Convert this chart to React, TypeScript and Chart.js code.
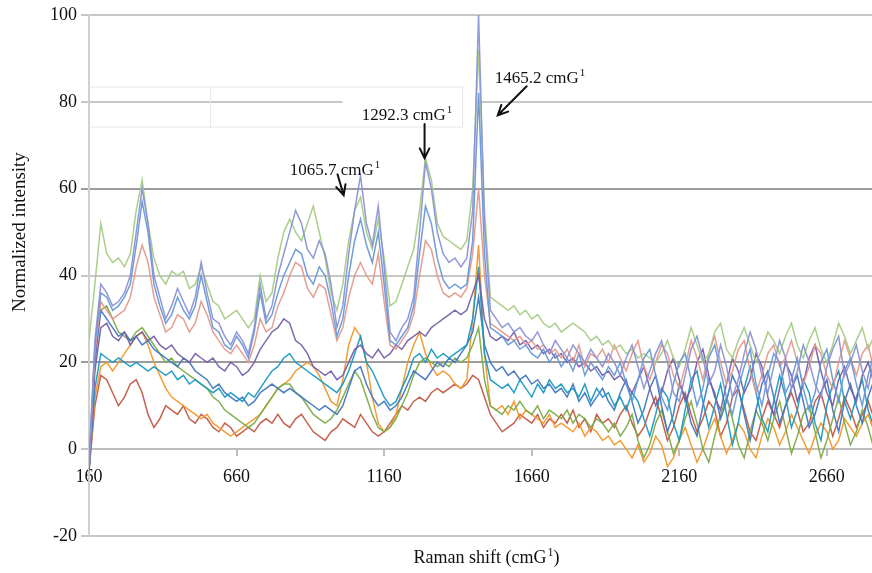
import React, { useEffect, useRef } from 'react';
import { Chart, registerables } from 'chart.js';

Chart.register(...registerables);

// Raman shift sampling: START + STEP * i  (cm^-1)
const X_START = 160;
const X_STEP = 20;
const X_MIN = 160;
const X_MAX = 2813;
const X_TICKS = [160, 660, 1160, 1660, 2160, 2660];
const Y_MIN = -20;
const Y_MAX = 100;
const Y_STEP = 20;

const lavender = [
  -3, 25, 38, 36, 33, 34, 36, 40, 50, 60,
  52, 40, 35, 30, 33, 37, 34, 31, 35, 43,
  36, 30, 29, 26, 24, 27, 25, 22, 28, 38,
  30, 33, 40, 45, 50, 55, 52, 46, 44, 48,
  45, 38, 28, 33, 45, 55, 63, 52, 47, 56,
  42, 27, 25, 28, 30, 35, 50, 66, 60, 50,
  45, 43, 44, 42, 44, 55, 100, 52, 32, 30,
  28, 29, 27, 28, 26, 25, 27, 24, 22, 25,
  23, 21, 24, 22, 20, 23, 21, 19, 22, 20,
  17, 21, 24, 19, 14, 18, 22, 25, 20, 13,
  11, 17, 23, 26, 21, 15, 18, 24, 19, 12,
  16, 22, 27, 23, 17, 13, 19, 25, 21, 14,
  18, 24, 20, 15, 12, 19, 23, 26, 17, 20,
  24, 18, 14, 21, 19,
];

const lightBlue = [
  -4, 24, 36, 35, 32, 33, 35, 38, 47, 57,
  50, 38, 33, 29, 31, 35, 32, 30, 33, 40,
  34, 28, 27, 24, 23, 26, 24, 21, 27, 36,
  29, 31, 36, 40, 43, 46, 45, 40, 38, 42,
  40, 34, 26, 30, 40, 48, 53, 47, 43, 50,
  38, 25, 24, 26, 28, 33, 45, 56, 52, 44,
  39, 37, 38, 37, 38, 48, 82, 45, 28, 27,
  26, 24, 25, 23, 24, 22, 21, 23, 20, 22,
  19, 21, 18, 22, 17, 20, 18, 16, 19, 17,
  20, 15, 11, 16, 21, 23, 17, 12, 9, 15,
  20, 22, 16, 10, 14, 21, 24, 18, 12, 8,
  14, 19, 23, 15, 10, 17, 22, 20, 13, 16,
  21, 14, 9, 13, 20, 23, 16, 11, 18, 21,
  15, 10, 17, 22, 16,
];

const salmon = [
  -4, 22, 34, 32, 30, 31, 32, 35, 42, 47,
  43, 35, 31, 27, 28, 31, 30, 27, 29, 34,
  31, 27, 25, 23, 22, 24, 22, 20, 24, 30,
  27, 28, 33, 36, 40, 43, 42, 37, 35, 38,
  37, 31, 25, 28, 35, 40, 43, 40, 38, 45,
  34, 24, 23, 25, 27, 31, 40, 48, 46, 40,
  36, 35, 36, 35, 37, 45, 60, 40, 29, 28,
  27, 26, 25, 26, 24, 25, 23, 24, 22, 23,
  21, 23, 20, 24, 19, 22, 21, 23, 20, 24,
  21, 18, 22, 25, 19, 16, 20, 24, 22, 17,
  14, 19, 25, 21, 16, 22, 26, 20, 15, 18,
  23, 25, 18, 13, 17, 22, 24, 19, 21, 25,
  20, 15, 19, 24, 22, 17, 14, 20, 25, 21,
  17, 22, 24, 18, 21,
];

const lightGreen = [
  25, 38, 52, 45, 43, 44, 42, 45, 55, 62,
  52, 44, 40, 38, 41, 40, 41, 37, 38, 42,
  38, 34, 33, 30, 31, 32, 30, 28, 30, 40,
  34, 36, 44, 50, 53, 50, 48, 52, 56, 50,
  44, 36, 32, 38, 48, 55, 58, 50, 46, 53,
  44, 33, 34, 38, 42, 46, 55, 67, 62, 52,
  49, 48, 47, 46, 48, 60, 92, 55, 35, 34,
  33, 32, 33, 31, 32, 30, 31, 29, 28, 29,
  27, 28, 29, 28, 27, 25, 26, 24, 25, 23,
  24, 22, 23, 21, 22, 21, 20, 22, 25, 21,
  19, 23, 28, 24, 20, 22, 27, 29, 23, 21,
  25, 28, 24, 20, 23, 27, 25, 22, 26, 29,
  24, 21, 25, 28, 23, 20, 24, 29, 26, 22,
  25, 28, 23, 26, 24,
];

const purple = [
  -5, 18, 28, 29, 26, 25, 27, 24, 26, 27,
  25, 26, 24, 23, 24, 22, 21, 20, 22, 21,
  20, 21, 19, 18, 20, 19, 17, 18, 20, 23,
  25, 27, 28, 30, 29, 25, 24, 22, 19, 18,
  17, 18, 16, 17, 20, 23, 24, 22, 21, 23,
  21, 22, 24, 23, 25, 26, 27, 26, 28, 29,
  30, 31, 32, 31, 32, 36, 40, 30, 26, 25,
  26, 25, 27, 24, 25, 23, 24, 22, 23, 21,
  22, 20, 21, 19, 20, 18, 19, 17, 18, 16,
  17, 15, 13, 16, 19, 14, 10, 13, 18, 21,
  16, 11, 14, 20, 23, 17, 12, 9, 15, 21,
  18, 13, 16, 22, 19, 12, 8, 14, 20, 17,
  11, 15, 21, 24, 18, 13, 10, 16, 19, 14,
  11, 17, 20, 15, 13,
];

const teal = [
  -5, 14, 22, 21, 20, 21, 20, 19, 20, 19,
  18, 19, 18, 17, 18, 16, 17, 15, 16, 15,
  14, 13, 14, 12, 13, 12, 11, 13, 12, 14,
  16, 18, 19, 21, 22, 20, 19, 18, 17, 16,
  15, 14, 13, 15, 18, 22, 26, 20, 18, 15,
  12, 10, 11, 14, 17, 21, 22, 20, 23, 21,
  22, 21, 22, 23, 24, 30, 42, 22, 16, 15,
  14, 15, 13, 16, 14, 12, 15, 13, 16, 14,
  15, 13, 14, 12, 15, 11, 14, 12, 13, 10,
  12, 9, 13, 11, 7, 3, 8, 14, 12, 6,
  2, 9, 16, 18, 11, 5, 10, 15, 8, 1,
  6, 14, 19, 13, 7, 4, 11, 17, 12, 5,
  9, 16, 13, 6, 2, 10, 15, 18, 11, 7,
  12, 16, 9, 5, 10,
];

const blue = [
  -5, 20, 32, 30, 28, 26, 27, 25, 26, 24,
  25, 23, 22, 21, 20, 19, 21, 20, 18, 17,
  16, 14, 15, 13, 12, 11, 12, 10, 11, 13,
  14, 15, 14, 13, 14, 13, 12, 11, 10, 9,
  10, 9, 8, 10, 14, 18, 19, 15, 12, 10,
  11, 9, 10, 12, 15, 18, 17, 16, 18, 20,
  19, 21, 20, 22, 24, 27, 35, 24, 20, 18,
  19, 17, 18, 16, 17, 15, 16, 14, 15, 13,
  14, 12, 15, 11, 13, 10, 12, 14, 11, 9,
  13, 16, 11, 6, 9, 14, 17, 10, 4, 8,
  15, 12, 6, 3, 10, 16, 13, 7, 11, 17,
  14, 8, 2, 9, 15, 18, 12, 6, 10, 14,
  17, 11, 5, 8, 13, 16, 9, 4, 11, 15,
  10, 6, 12, 16, 11,
];

const green = [
  -5, 22, 32, 33, 30, 27, 26, 25, 27, 28,
  26, 24, 22, 20, 21, 19, 18, 17, 16, 15,
  14, 12, 11, 9, 8, 7, 6, 5, 6, 8,
  10, 12, 14, 15, 15, 13, 12, 10, 8, 7,
  6, 7, 9, 12, 15, 18, 16, 12, 8, 5,
  4, 5, 7, 10, 13, 17, 20, 21, 20, 19,
  20, 19, 21, 20, 21, 24, 28, 16, 10, 9,
  8, 10, 9, 11, 9, 8, 10, 7, 9, 8,
  7, 9, 6, 8, 7, 5, 7, 6, 4, 6,
  3, 5, 8, 2, -2, 1, 6, 9, 4, -1,
  2, 7, 11, 6, 0, -3, 3, 8, 12, 7,
  1, -2, 4, 9, 6, 2, 7, 11, 5, -1,
  3, 8, 10, 4, -2, 2, 7, 12, 6, 1,
  4, 9, 5, 0, 3,
];

const orange = [
  -5, 12, 19, 20, 18, 20, 22, 24, 26, 27,
  24, 20, 17, 14, 12, 11, 10, 9, 8, 7,
  8, 6, 5, 4, 3, 4, 5, 6, 7, 8,
  10, 12, 14, 15, 16, 18, 19, 20, 19, 17,
  14, 11, 10, 16, 24, 28, 26, 20, 12, 6,
  4, 5, 8, 14, 20, 24, 27, 22, 19, 17,
  18, 17, 15, 14, 16, 30, 47, 22, 10, 9,
  10, 8, 11, 7, 9, 8, 7, 6, 8, 5,
  6, 5, 4, 6, 3, 5, 4, 2, 3, 1,
  2, 0, -2, 1, -3, -1, 3, 1, -4, -2,
  2, 5, 1, -3, 0, 4, 7, 3, -1, 2,
  6, 4, 0, -2, 3, 7, 5, 1, 4, 8,
  5, 2, -1, 3, 6, 4, 0, 2, 7, 5,
  3, 6, 8, 4, 5,
];

const red = [
  -5, 10, 17, 16, 13, 10, 12, 15, 16, 13,
  8, 5, 7, 10, 9, 8, 10, 7, 6, 8,
  7, 5, 4, 6, 5, 3, 4, 5, 4, 6,
  7, 6, 8, 6, 5, 7, 8, 6, 4, 3,
  2, 4, 5, 7, 6, 5, 8, 6, 4, 3,
  4, 6, 8, 10, 9, 11, 12, 11, 13, 14,
  13, 14, 15, 14, 15, 17, 16, 12, 8, 6,
  4, 5, 6, 8, 7, 6, 8, 5, 7, 6,
  8, 6, 9, 5, 7, 4, 8, 6, 7, 5,
  8, 10, 6, 3, 5, 9, 12, 7, 2, 5,
  10, 13, 8, 4, 7, 11, 9, 3, 6, 12,
  14, 9, 4, 2, 7, 11, 8, 5, 10, 13,
  9, 4, 6, 11, 13, 8, 3, 7, 12, 9,
  5, 8, 11, 7, 9,
];

const SERIES = [
  { values: lavender, color: 'rgba(139,146,214,0.95)' },
  { values: lightBlue, color: 'rgba(104,152,214,0.95)' },
  { values: lightGreen, color: 'rgba(165,203,133,0.95)' },
  { values: salmon, color: 'rgba(229,152,140,0.95)' },
  { values: purple, color: 'rgba(118,96,168,0.95)' },
  { values: teal, color: 'rgba(28,154,192,0.95)' },
  { values: blue, color: 'rgba(66,118,192,0.95)' },
  { values: green, color: 'rgba(124,172,72,0.95)' },
  { values: orange, color: 'rgba(242,152,44,0.95)' },
  { values: red, color: 'rgba(194,90,70,0.95)' },
];

const PEAK_LABELS = ['1065.7 cmG', '1292.3 cmG', '1465.2 cmG'];
const PEAK_LABEL_AT = [[840, 63.1], [1084, 75.8], [1535, 84.3]];
const PEAK_ARROWS = [[1002, 63.3, 1023, 58.5], [1297, 74.9, 1297, 67.0], [1643, 83.6, 1545, 76.9]];

const FONT = '"Liberation Serif", "Times New Roman", serif';
const X_TITLE = 'Raman shift (cmG';
const Y_TITLE = 'Normalized intensity';

function drawSup(ctx: CanvasRenderingContext2D, x: number, y: number, main: string, size: number, align: 'left' | 'center') {
  ctx.font = `${size}px ${FONT}`;
  const w1 = ctx.measureText(main).width;
  ctx.font = `${Math.round(size * 0.65)}px ${FONT}`;
  const w2 = ctx.measureText('1').width;
  let start = x;
  if (align === 'center') start = x - (w1 + w2 + 1) / 2;
  ctx.textAlign = 'left';
  ctx.textBaseline = 'alphabetic';
  ctx.font = `${size}px ${FONT}`;
  ctx.fillText(main, start, y);
  ctx.font = `${Math.round(size * 0.65)}px ${FONT}`;
  ctx.fillText('1', start + w1 + 1, y - size * 0.4);
  return start + w1 + 1 + w2;
}

const boxPlugin = {
  id: 'legendRemnant',
  beforeDatasetsDraw(chart: any) {
    const { ctx } = chart;
    const xs = chart.scales.x;
    const ys = chart.scales.y;
    const top = ys.getPixelForValue(83.4);
    const bot = ys.getPixelForValue(74.2);
    const l = xs.getPixelForValue(160);
    const r = xs.getPixelForValue(1426);
    ctx.save();
    ctx.fillStyle = '#ffffff';
    ctx.fillRect(xs.getPixelForValue(1019), top - 1, xs.getPixelForValue(1477) - xs.getPixelForValue(1019), bot - top + 2);
    ctx.strokeStyle = '#e6e6e6';
    ctx.lineWidth = 1;
    ctx.beginPath();
    ctx.moveTo(l, top); ctx.lineTo(r, top); ctx.lineTo(r, bot); ctx.lineTo(l, bot);
    const d = xs.getPixelForValue(572);
    ctx.moveTo(d, top); ctx.lineTo(d, bot);
    ctx.stroke();
    ctx.restore();
  },
};

const annotationPlugin = {
  id: 'peakAnnotations',
  afterDatasetsDraw(chart: any) {
    const { ctx, chartArea } = chart;
    const xs = chart.scales.x;
    const ys = chart.scales.y;
    ctx.save();
    ctx.fillStyle = '#111';
    PEAK_LABELS.forEach((t, i) => {
      const [lx, ly] = PEAK_LABEL_AT[i];
      drawSup(ctx, xs.getPixelForValue(lx), ys.getPixelForValue(ly), t, 17, 'left');
    });
    ctx.strokeStyle = '#111';
    ctx.lineWidth = 2;
    ctx.lineCap = 'round';
    PEAK_ARROWS.forEach(([x1, y1, x2, y2]) => {
      const px1 = xs.getPixelForValue(x1), py1 = ys.getPixelForValue(y1);
      const px2 = xs.getPixelForValue(x2), py2 = ys.getPixelForValue(y2);
      const ang = Math.atan2(py2 - py1, px2 - px1);
      const hl = 11;
      ctx.beginPath();
      ctx.moveTo(px1, py1); ctx.lineTo(px2, py2);
      ctx.moveTo(px2 - hl * Math.cos(ang - 0.45), py2 - hl * Math.sin(ang - 0.45));
      ctx.lineTo(px2, py2);
      ctx.lineTo(px2 - hl * Math.cos(ang + 0.45), py2 - hl * Math.sin(ang + 0.45));
      ctx.stroke();
    });
    // axis titles
    ctx.fillStyle = '#111';
    const cx = (chartArea.left + chartArea.right) / 2 + 3;
    const endX = drawSup(ctx, cx, chart.height - 10, X_TITLE, 18, 'center');
    ctx.font = `18px ${FONT}`;
    ctx.fillText(')', endX, chart.height - 10);
    ctx.translate(25, ys.getPixelForValue(50));
    ctx.rotate(-Math.PI / 2);
    ctx.textAlign = 'center';
    ctx.textBaseline = 'alphabetic';
    ctx.font = `19px ${FONT}`;
    ctx.fillText(Y_TITLE, 0, 0);
    ctx.restore();
  },
};

export default function App() {
  const ref = useRef<HTMLCanvasElement | null>(null);
  useEffect(() => {
    if (!ref.current) return;
    const datasets = SERIES.map((s) => ({
      data: s.values.map((v, i) => ({ x: X_START + X_STEP * i, y: v })),
      borderColor: s.color,
      backgroundColor: s.color,
      borderWidth: 1.5,
      pointRadius: 0,
      fill: false,
      tension: 0,
    }));
    const chart = new Chart(ref.current, {
      type: 'line',
      data: { datasets },
      options: {
        animation: false,
        responsive: false,
        events: [],
        layout: { padding: { left: 0, right: 0, top: 15, bottom: 37 } },
        plugins: { legend: { display: false }, tooltip: { enabled: false }, title: { display: false } },
        scales: {
          x: {
            type: 'linear',
            min: X_MIN,
            max: X_MAX,
            position: { y: 0 } as any,
            afterBuildTicks: (s: any) => { s.ticks = X_TICKS.map((v) => ({ value: v })); },
            grid: { drawOnChartArea: false, drawTicks: true, tickLength: 6, color: '#bdbdbd', lineWidth: 2 },
            border: { display: true, color: '#bdbdbd', width: 2 },
            ticks: {
              font: { family: FONT, size: 18 },
              color: '#111',
              padding: 11,
              maxRotation: 0,
              autoSkip: false,
              callback: (v: any) => String(v),
            },
          },
          y: {
            type: 'linear',
            min: Y_MIN,
            max: Y_MAX,
            afterFit: (s: any) => { s.width = 89; },
            ticks: {
              stepSize: Y_STEP,
              font: { family: FONT, size: 18 },
              color: '#111',
              padding: 4,
              callback: (v: any) => String(v),
            },
            grid: {
              color: (c: any) => (c.tick && (c.tick.value === 60 || c.tick.value === 20) ? '#9c9c9c' : '#c6c6c6'),
              lineWidth: 2,
              tickLength: 8,
            },
            border: { display: true, color: '#cfcfcf', width: 2 },
          },
        },
      },
      plugins: [boxPlugin, annotationPlugin],
    });
    return () => chart.destroy();
  }, []);
  return (
    <div style={{ position: 'fixed', left: 0, top: 0, width: 872, height: 573, background: '#fff' }}>
      <canvas ref={ref} width={872} height={573} style={{ display: 'block' }} />
    </div>
  );
}
